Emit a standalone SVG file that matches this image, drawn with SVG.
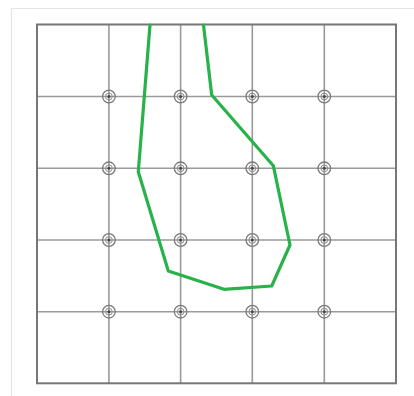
<svg xmlns="http://www.w3.org/2000/svg" width="414" height="396" viewBox="0 0 414 396">
<style>
.grid{stroke:#9a9a9a;stroke-width:1.6;fill:none}
.frame{stroke:#777;stroke-width:2;fill:none}
.pile circle.o{fill:none;stroke:#7a7a7a;stroke-width:1.3}
.pile circle.i{fill:none;stroke:#8a8a8a;stroke-width:1}
.pile circle.c{fill:#444}
.route{fill:none;stroke:#27b24a;stroke-width:3.2;stroke-linejoin:round;stroke-linecap:round}
</style>
<defs>
<g id="p" class="pile"><circle class="o" r="6.3"/><circle class="i" r="3.4"/><circle class="c" r="1.5"/></g>
</defs>
<rect width="414" height="396" fill="#fff"/>
<path d="M11.5 396 V8.5 H414" fill="none" stroke="#e4e4e4" stroke-width="1.2"/>
<g id="grid">
<path class="grid" d="M108.9 24.5V383.3M180.6 24.5V383.3M252.3 24.5V383.3M324.3 24.5V383.3M37 96.5H396M37 168.3H396M37 240H396M37 311.7H396"/>
<rect class="frame" x="37" y="24.5" width="359" height="358.8"/>
</g>
<g id="piles">
<use href="#p" x="108.9" y="96.5"/><use href="#p" x="180.6" y="96.5"/><use href="#p" x="252.3" y="96.5"/><use href="#p" x="324.3" y="96.5"/>
<use href="#p" x="108.9" y="168.3"/><use href="#p" x="180.6" y="168.3"/><use href="#p" x="252.3" y="168.3"/><use href="#p" x="324.3" y="168.3"/>
<use href="#p" x="108.9" y="240"/><use href="#p" x="180.6" y="240"/><use href="#p" x="252.3" y="240"/><use href="#p" x="324.3" y="240"/>
<use href="#p" x="108.9" y="311.7"/><use href="#p" x="180.6" y="311.7"/><use href="#p" x="252.3" y="311.7"/><use href="#p" x="324.3" y="311.7"/>
</g>
<g id="connectors">
<path class="route" d="M150 25 L138.3 171.7 L168.3 271 L224 289.3 L271.7 286 L290 245 L273.3 165.7 L211.7 95 L203.5 25"/>
</g>
</svg>
